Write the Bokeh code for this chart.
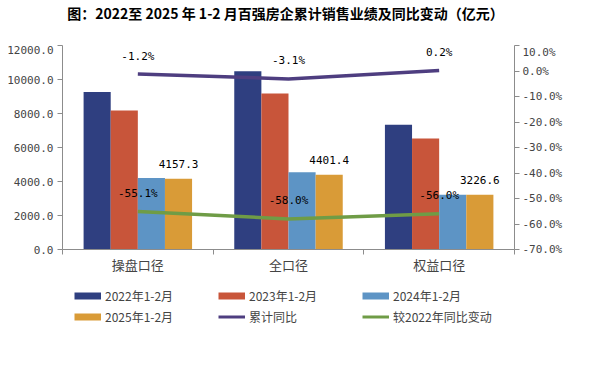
from bokeh.plotting import figure
from bokeh.layouts import column
from bokeh.models import (ColumnDataSource, Range1d, LinearAxis, FixedTicker,
                          PrintfTickFormatter, LabelSet, Label, Legend, LegendItem)
from bokeh.core.properties import value
from bokeh.transform import dodge
from bokeh.embed import file_html
from bokeh.resources import INLINE

categories = ["操盘口径", "全口径", "权益口径"]
series_names = ["2022年1-2月", "2023年1-2月", "2024年1-2月", "2025年1-2月"]
sales_2022 = [9259.0, 10480.0, 7333.0]
sales_2023 = [8180.0, 9180.0, 6530.0]
sales_2024 = [4208.0, 4542.0, 3220.0]
sales_2025 = [4157.3, 4401.4, 3226.6]
yoy = [-1.2, -3.1, 0.2]
vs2022 = [-55.1, -58.0, -56.0]
line_names = ["累计同比", "较2022年同比变动"]
left_ticks = [0, 2000, 4000, 6000, 8000, 10000, 12000]
right_ticks = [-70, -60, -50, -40, -30, -20, -10, 0, 10]
title_text = "图：2022至 2025 年 1-2 月百强房企累计销售业绩及同比变动（亿元）"

bar_colors = ["#2F3F80", "#C8553A", "#5D94C5", "#D99B37"]
line_colors = ["#4E3E80", "#6F9C46"]
axis_grey = "#8C8C8C"
tick_font = "DejaVu Sans Mono"

BL, BR, FW = 62, 80, 452

xi = [i + 0.5 for i in range(len(categories))]
src = ColumnDataSource(data=dict(
    xi=xi, s2022=sales_2022, s2023=sales_2023, s2024=sales_2024, s2025=sales_2025,
    s2025_txt=["%.1f" % v for v in sales_2025],
    yoy=yoy, yoy_txt=["%.1f%%" % v for v in yoy],
    vs=vs2022, vs_txt=["%.1f%%" % v for v in vs2022],
))


def blank_fig(h):
    f = figure(frame_width=FW, frame_height=h, output_backend="svg", toolbar_location=None,
               x_range=Range1d(0, 1), y_range=Range1d(0, 1),
               min_border_left=BL, min_border_right=BR, min_border_top=0, min_border_bottom=0)
    f.axis.visible = False
    f.grid.visible = False
    f.outline_line_color = None
    f.border_fill_color = "white"
    f.background_fill_color = "white"
    return f


# title strip
tf = blank_fig(45)
tf.add_layout(Label(x=0.5, y=1, text=title_text, text_align="center", text_baseline="top",
                    x_offset=-3, y_offset=-2, text_font="Noto Sans CJK SC",
                    text_font_size="14px", text_font_style="bold", text_color="black"))

# main chart
p = figure(title=None, frame_width=FW, frame_height=204, output_backend="svg", toolbar_location=None,
           x_range=Range1d(0, len(categories)), y_range=Range1d(left_ticks[0], left_ticks[-1]),
           min_border_left=BL, min_border_right=BR, min_border_top=0, min_border_bottom=0)
p.extra_y_ranges = {"pct": Range1d(right_ticks[0], right_ticks[-1])}
p.outline_line_color = None
p.xgrid.visible = False
p.ygrid.visible = False
p.background_fill_color = "white"
p.border_fill_color = "white"

xa = p.xaxis[0]
xa.ticker = FixedTicker(ticks=xi, minor_ticks=[float(i) for i in range(len(categories) + 1)])
xa.major_label_overrides = {x: c for x, c in zip(xi, categories)}
xa.major_tick_line_color = None
xa.major_tick_out = 0
xa.major_tick_in = 0
xa.minor_tick_in = 0
xa.minor_tick_out = 5
xa.minor_tick_line_color = axis_grey
xa.axis_line_color = axis_grey
xa.major_label_text_font = "Noto Sans CJK SC"
xa.major_label_text_font_size = "13px"
xa.major_label_standoff = 0

ya = p.yaxis[0]
ya.ticker = FixedTicker(ticks=left_ticks)
ya.formatter = PrintfTickFormatter(format="%.1f")
ya.major_tick_in = 0
ya.major_tick_out = 5
ya.major_tick_line_color = axis_grey
ya.axis_line_color = axis_grey
ya.major_label_text_font = tick_font
ya.major_label_text_font_size = "11px"
ya.major_label_standoff = 4

ra = LinearAxis(y_range_name="pct", ticker=FixedTicker(ticks=right_ticks),
                formatter=PrintfTickFormatter(format="%.1f%%"))
ra.major_tick_in = 0
ra.major_tick_out = 5
ra.major_tick_line_color = axis_grey
ra.axis_line_color = axis_grey
ra.major_label_text_font = tick_font
ra.major_label_text_font_size = "11px"
ra.major_label_standoff = 3
p.add_layout(ra, "right")

offsets = [-0.27, -0.09, 0.09, 0.27]
cols = ["s2022", "s2023", "s2024", "s2025"]
for col, off, c in zip(cols, offsets, bar_colors):
    p.vbar(x=dodge("xi", off), top=col, width=0.18, source=src,
           fill_color=c, line_color=None)

p.line(x="xi", y="yoy", source=src, y_range_name="pct", line_color=line_colors[0], line_width=3.5)
p.line(x="xi", y="vs", source=src, y_range_name="pct", line_color=line_colors[1], line_width=3.5)

lbl_kw = dict(text_font=value(tick_font), text_font_size="11px", text_align="center",
              text_baseline="middle", text_color="black")
p.add_layout(LabelSet(x=dodge("xi", 0.27), y="s2025", text="s2025_txt", source=src,
                      y_offset=15, **lbl_kw))
p.add_layout(LabelSet(x="xi", y="yoy", text="yoy_txt", source=src, y_range_name="pct",
                      y_offset=18, **lbl_kw))
p.add_layout(LabelSet(x="xi", y="vs", text="vs_txt", source=src, y_range_name="pct",
                      y_offset=18, **lbl_kw))

# legend strip
lf = blank_fig(58)
nan = float("nan")
items = []
for name, c in zip(series_names, bar_colors):
    r = lf.line(x=[nan], y=[nan], line_color=c, line_width=7)
    items.append(LegendItem(label=name, renderers=[r]))
for name, c in zip(line_names, line_colors):
    r = lf.line(x=[nan], y=[nan], line_color=c, line_width=3)
    items.append(LegendItem(label=name, renderers=[r]))

legend = Legend(items=items, orientation="horizontal", ncols=3,
                glyph_width=27, glyph_height=13, label_height=13, label_width=109,
                label_standoff=4, spacing=4, padding=0, margin=0,
                label_text_font="Noto Sans CJK SC", label_text_font_size="12px",
                border_line_color=None, background_fill_alpha=0,
                location=(12, 9))
lf.add_layout(legend, "center")

layout = column(tf, p, lf, spacing=0)
open("out.html", "w").write(file_html(layout, INLINE))
